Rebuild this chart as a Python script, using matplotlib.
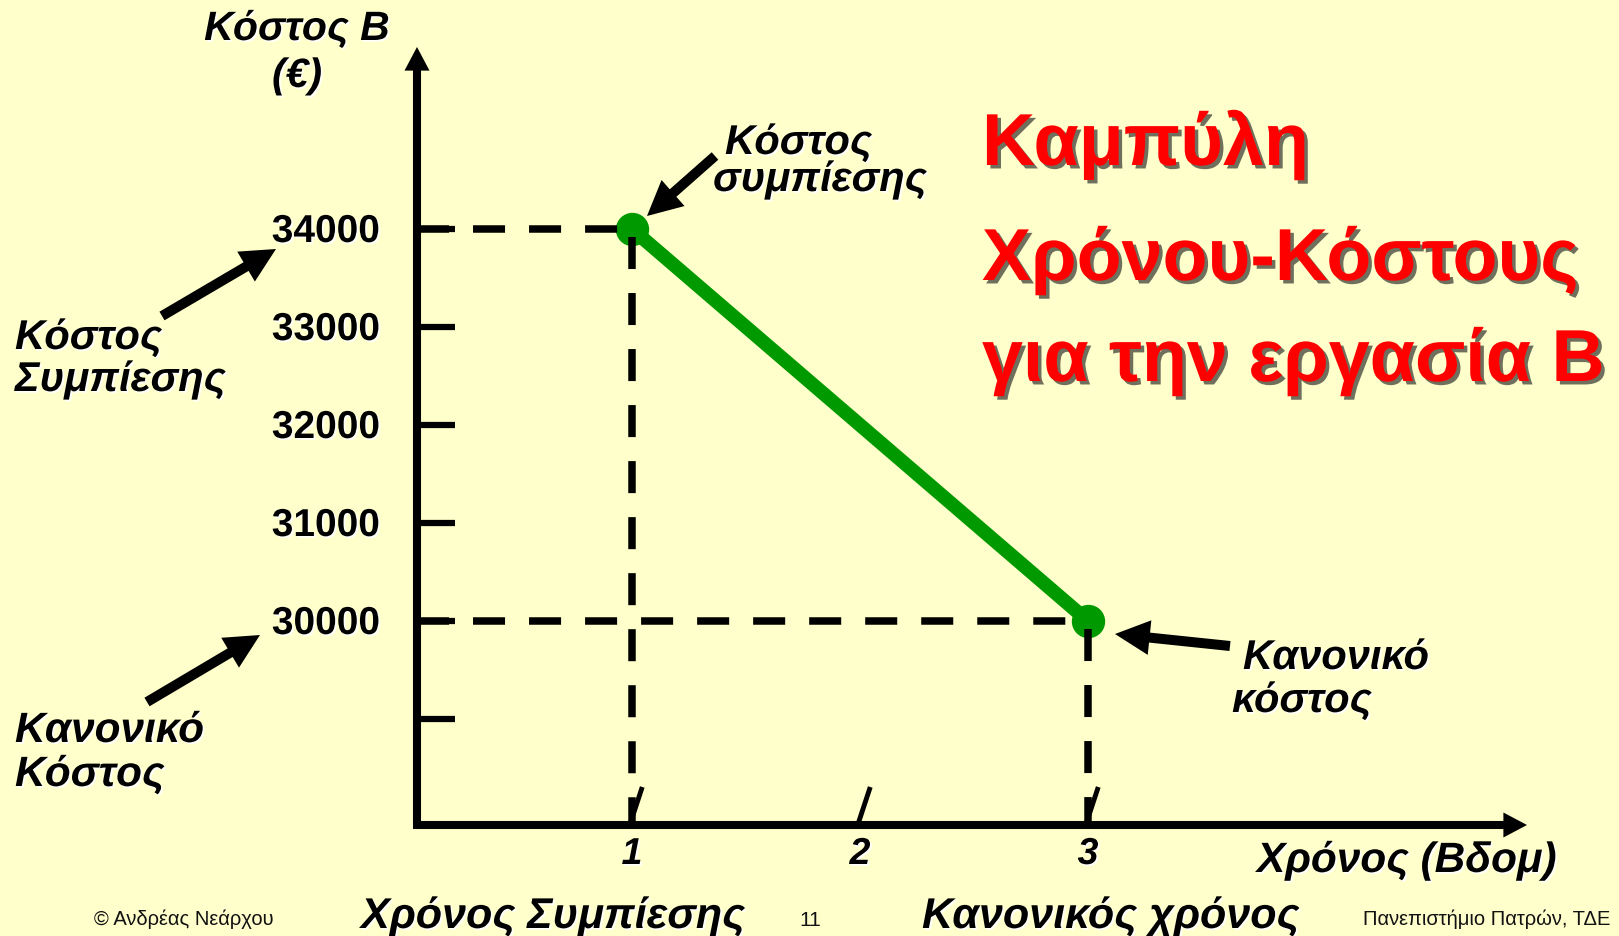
import matplotlib
matplotlib.use("Agg")
import matplotlib.pyplot as plt
import matplotlib.patheffects as pe
from matplotlib.patches import FancyArrowPatch
from matplotlib import transforms

# ---------------- data ----------------
weeks = [1, 3]                      # crash time, normal time
costs = [34000, 30000]              # crash cost, normal cost
x_ticks = [1, 2, 3]
x_tick_labels = ["1", "2", "3"]
y_ticks = [34000, 33000, 32000, 31000, 30000, 29000]
y_tick_labels = ["34000", "33000", "32000", "31000", "30000", ""]

title_lines = ["Καμπύλη", "Χρόνου-Κόστους", "για την εργασία Β"]
y_title = ["Κόστος Β", "(€)"]
x_title = "Χρόνος (Βδομ)"

W, H = 1619, 937
BG = "#FFFFCC"
GREEN = "#009900"

plt.rcParams['font.family'] = ['Liberation Sans', 'DejaVu Sans']

fig = plt.figure(figsize=(W / 100, H / 100), dpi=100, facecolor=BG)
ax = fig.add_axes([0, 0, 1, 1])
ax.set_facecolor(BG)
ax.axis("off")

# data <-> pixel mapping: x=1 -> 632 px, 1 week = 228 px ; 34000 -> 230 px from top, 1000 = 98 px
px_per_x = 228.0
px_per_y = 98.0 / 1000.0
x_left = 1 - 632 / px_per_x
x_right = 1 + (W - 632) / px_per_x
y_top = 34000 + 230 / px_per_y
y_bot = 34000 - (H - 230) / px_per_y
ax.set_xlim(x_left, x_right)
ax.set_ylim(y_bot, y_top)

def P(px, py):
    """pixel (from top-left) -> axes fraction"""
    return (px / W, 1 - py / H)

X0 = 1 + (417 - 632) / px_per_x        # y-axis position (data)
Y0 = 34000 - (826 - 230) / px_per_y    # x-axis position (data)
x_end = 1 + (1527 - 632) / px_per_x
y_end = 34000 + (230 - 48) / px_per_y

# axes with arrowheads
ax_style = "simple,head_length=17,head_width=18,tail_width=5.8"
ax.add_patch(FancyArrowPatch((X0, Y0 - 4 / px_per_y), (X0, y_end), arrowstyle=ax_style,
                             mutation_scale=1, color="black", lw=0, shrinkA=0, shrinkB=0, zorder=5))
ax.add_patch(FancyArrowPatch((X0 - 4 / px_per_x, Y0), (x_end, Y0), arrowstyle=ax_style,
                             mutation_scale=1, color="black", lw=0, shrinkA=0, shrinkB=0, zorder=5))

# y ticks (right of axis)
tick_len = (455 - 417) / px_per_x
for v in y_ticks:
    ax.plot([X0, X0 + tick_len], [v, v], color="black", lw=4.5, solid_capstyle="butt", zorder=4)

white_glow = [pe.SimplePatchShadow(offset=(1.3, -1.3), shadow_rgbFace="white", alpha=0.9), pe.Normal()]

# y tick labels
lab_off = transforms.ScaledTranslation(0, -13 / 100, fig.dpi_scale_trans)
label_x = 1 + (380 - 632) / px_per_x
for v, lab in zip(y_ticks, y_tick_labels):
    if lab:
        ax.text(label_x, v, lab, ha="right", va="baseline", fontsize=28, fontweight="bold",
                transform=ax.transData + lab_off, path_effects=white_glow)

# slanted x tick marks and labels
slash_h = (823 - 785) / px_per_y
for xv, lab in zip(x_ticks, x_tick_labels):
    ax.plot([xv - 0.01, xv + 0.045], [Y0, Y0 + slash_h], color="black", lw=3.5,
            solid_capstyle="butt", zorder=4)
    ax.text(xv, 34000 - (865 - 230) / px_per_y, lab, ha="center", va="baseline", fontsize=27,
            fontweight="bold", fontstyle="italic", path_effects=white_glow)

# green time-cost line
ax.plot(weeks, costs, color=GREEN, lw=10, solid_capstyle="round", marker="o", ms=23,
        markerfacecolor=GREEN, markeredgecolor=GREEN, zorder=3)

# dashed guide lines
dash_kw = dict(color="black", lw=5.4, dashes=(4.27, 3.2), dash_capstyle="butt", zorder=6)
for xv, yv in zip(weeks, costs):
    ax.plot([X0, xv], [yv, yv], **dash_kw)
    ax.plot([xv, xv], [yv - 8 / px_per_y, Y0], **dash_kw)

# annotation arrows (pixel positions)
arr_style = "simple,head_length=25,head_width=25,tail_width=7.2"
for tail, tip in [((162, 317), (276, 250)), ((147, 703), (260, 636)),
                  ((715, 157), (647, 217)), ((1230, 647), (1115, 635))]:
    ax.add_patch(FancyArrowPatch(P(*tail), P(*tip), arrowstyle=arr_style, mutation_scale=1,
                                 color="black", lw=0, shrinkA=0, shrinkB=0,
                                 transform=ax.transAxes, zorder=7))

def T(px, py, s, size=30, ha="left", style="italic", weight="bold", color="black", fx=None, **kw):
    ax.text(*P(px, py), s, transform=ax.transAxes, ha=ha, va="baseline", fontsize=size,
            fontstyle=style, fontweight=weight, color=color,
            path_effects=white_glow if fx is None else fx, **kw)

# axis titles
T(297, 41, y_title[0], size=29.5, ha="center")
T(297, 88, y_title[1], size=29.5, ha="center")
T(1257, 873, x_title, size=30.5)

# annotation labels
T(15, 350, "Κόστος")
T(15, 392, "Συμπίεσης")
T(15, 743, "Κανονικό", size=30.5)
T(15, 787, "Κόστος", size=30.5)
T(725, 155, "Κόστος")
T(713, 192, "συμπίεσης")
T(1243, 670, "Κανονικό")
T(1232, 713, "κόστος")

# bottom labels
T(361, 929, "Χρόνος Συμπίεσης", size=31)
T(922, 929, "Κανονικός χρόνος", size=31)

# footer
ax.text(*P(94, 925), "© Ανδρέας Νεάρχου", transform=ax.transAxes, ha="left", va="baseline",
        fontsize=14.5, color="#111111")
ax.text(*P(810, 926), "11", transform=ax.transAxes, ha="center", va="baseline",
        fontsize=15, color="#111111")
ax.text(*P(1610, 925), "Πανεπιστήμιο Πατρών, ΤΔΕ", transform=ax.transAxes, ha="right",
        va="baseline", fontsize=14.5, color="#111111")

# red title
red_fx = [pe.SimplePatchShadow(offset=(2.5, -2.5), shadow_rgbFace="#222222", alpha=0.65), pe.Normal()]
for line, base in zip(title_lines, [166, 281, 382]):
    ax.text(*P(982, base), line, transform=ax.transAxes, ha="left", va="baseline",
            fontsize=53, fontweight="bold", color="#FF0000", path_effects=red_fx)

fig.savefig("out.png", dpi=100, facecolor=BG)
